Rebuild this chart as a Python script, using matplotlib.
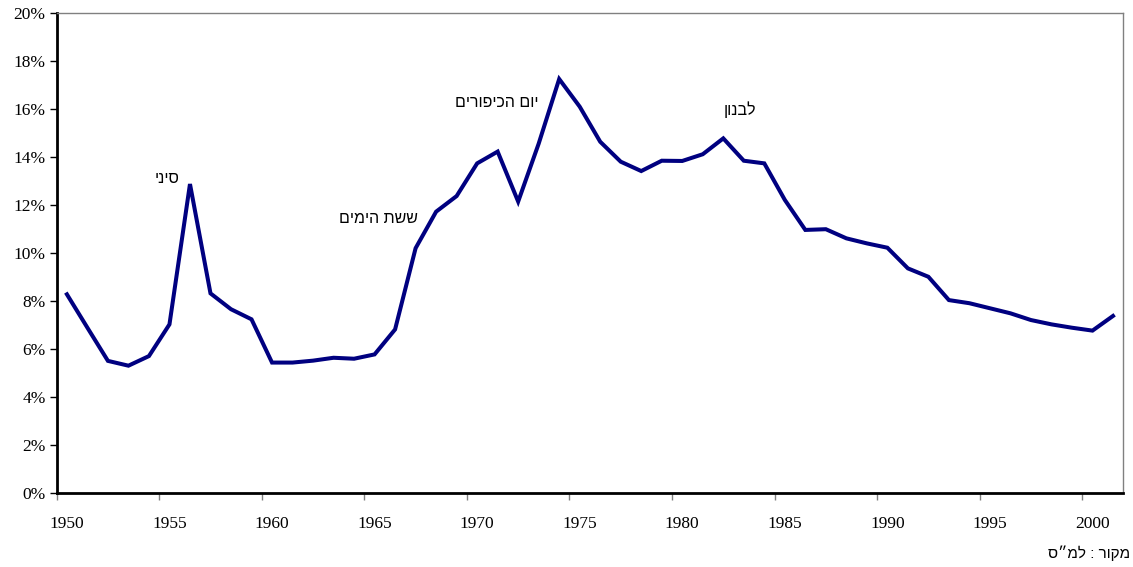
import numpy as np
import matplotlib
matplotlib.use("Agg")
import matplotlib.pyplot as plt
from matplotlib.ticker import FuncFormatter

# yearly values, percent
years = list(range(1950, 2002))
values = [
    8.28, 6.89, 5.51, 5.31, 5.71, 7.03, 12.87, 8.32, 7.66, 7.24,
    5.44, 5.44, 5.52, 5.64, 5.60, 5.78, 6.82, 10.20, 11.72, 12.37,
    13.73, 14.22, 12.14, 14.55, 17.24, 16.09, 14.63, 13.80, 13.41, 13.84,
    13.83, 14.11, 14.77, 13.84, 13.73, 12.21, 10.96, 10.99, 10.61, 10.40,
    10.22, 9.36, 9.01, 8.04, 7.91, 7.70, 7.49, 7.21, 7.03, 6.89,
    6.77, 7.38,
]
label_years = [1950, 1955, 1960, 1965, 1970, 1975, 1980, 1985, 1990, 1995, 2000]

# war labels (text, right edge x, y)
events = ["סיני", "ששת הימים", "יום הכיפורים", "לבנון"]
event_x = [1955.97, 1967.63, 1973.48, 1984.1]
event_y = [13.12, 11.45, 16.28, 15.95]

source = "מקור : למ״ס"

heb_font = ["Liberation Sans", "DejaVu Sans"]


def rtl(s):
    # matplotlib has no bidi support, draw hebrew in visual order
    return s[::-1]


fig = plt.figure(figsize=(11.33, 5.67), dpi=100)
ax = fig.add_axes([0.050, 0.130, 0.9414, 0.8476])

# excel category axis: points sit in the middle of each year
x = np.array(years) + 0.5
ax.plot(x, values, color="#000080", linewidth=2.9, solid_joinstyle="miter")

ax.set_xlim(1950, 2002)
ax.set_ylim(0, 20)
# labels centred on the category, tick marks on the category edges
ax.set_xticks([y + 0.5 for y in label_years])
ax.set_xticklabels([str(y) for y in label_years])
ax.set_xticks(label_years, minor=True)
ax.set_yticks(range(0, 21, 2))
ax.yaxis.set_major_formatter(FuncFormatter(lambda v, p: f"{int(v)}%"))

for lab in ax.get_xticklabels() + ax.get_yticklabels():
    lab.set_fontfamily("Liberation Serif")
    lab.set_fontsize(12.5)

ax.tick_params(axis="y", direction="out", length=5, width=1, color="black", pad=3)
ax.tick_params(axis="x", which="major", length=0, pad=16)
ax.tick_params(axis="x", which="minor", direction="out", length=5, width=1,
               color="#808080")

ax.spines["left"].set_linewidth(2)
ax.spines["bottom"].set_linewidth(2)
ax.spines["top"].set_linewidth(1)
ax.spines["right"].set_linewidth(1)
ax.spines["top"].set_color("#808080")
ax.spines["right"].set_color("#808080")

for txt, ex, ey in zip(events, event_x, event_y):
    ax.text(ex, ey, rtl(txt), ha="right", va="center", fontsize=11.5,
            family=heb_font, color="black")

fig.text(0.9975, 0.025, rtl(source), ha="right", va="center", fontsize=11,
         family=heb_font)

fig.savefig("out.png", dpi=100)
